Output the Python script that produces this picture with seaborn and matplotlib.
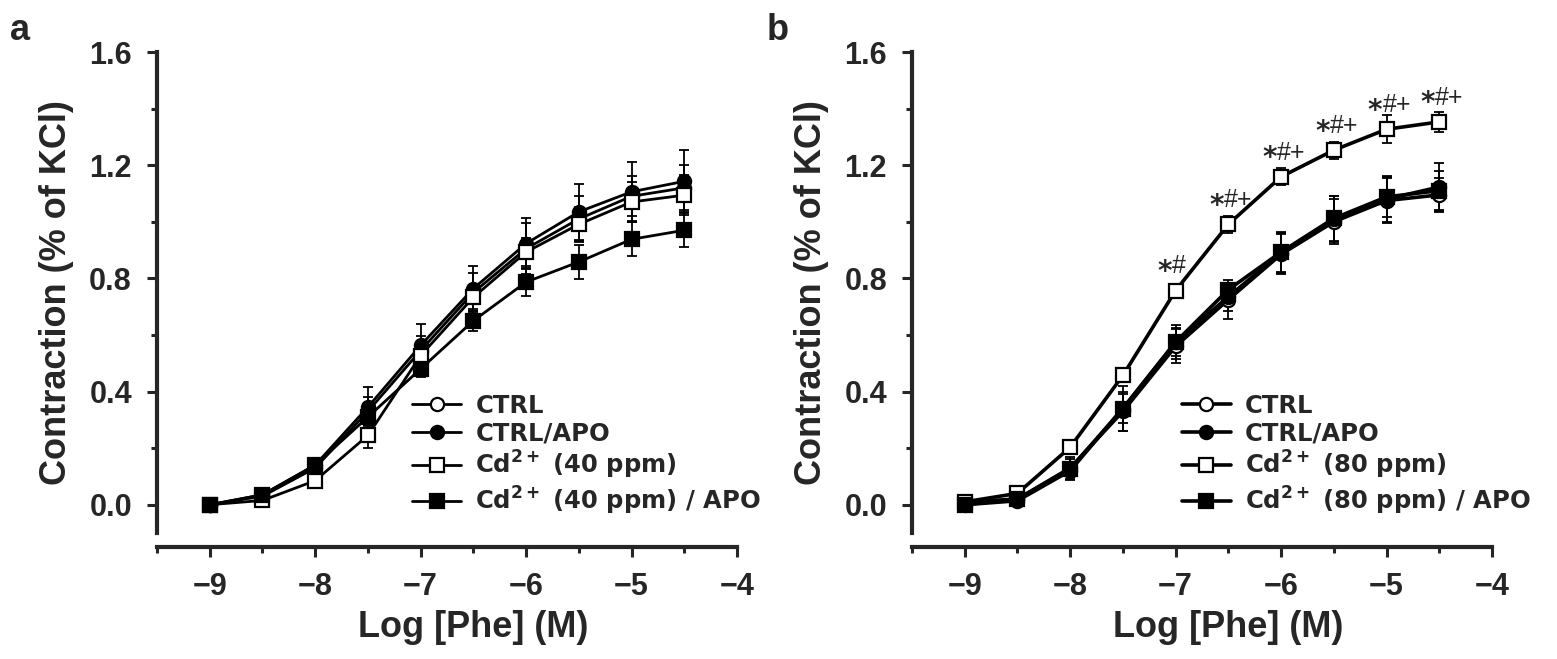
import matplotlib
matplotlib.use('Agg')
import matplotlib.pyplot as plt
import seaborn as sns
from matplotlib.ticker import MultipleLocator

# style first, fonts after (set_style resets font.family)
sns.set_style('ticks')
plt.rcParams['font.family'] = ['Liberation Sans', 'DejaVu Sans']
plt.rcParams['font.weight'] = 'bold'
plt.rcParams['mathtext.fontset'] = 'dejavusans'

# x positions (log molar phenylephrine)
log_phe = [-9.0, -8.5, -8.0, -7.5, -7.0, -6.5, -6.0, -5.5, -5.0, -4.5]

# panel a : means and SEM
a_ctrl = [0.00, 0.030, 0.13, 0.330, 0.545, 0.750, 0.905, 1.010, 1.090, 1.120]
a_ctrl_apo = [0.00, 0.035, 0.14, 0.345, 0.563, 0.764, 0.923, 1.035, 1.106, 1.143]
a_cd = [0.00, 0.015, 0.085, 0.245, 0.527, 0.733, 0.893, 0.991, 1.070, 1.094]
a_cd_apo = [0.00, 0.035, 0.14, 0.310, 0.480, 0.650, 0.787, 0.858, 0.938, 0.970]
a_ctrl_sem = [0.01, 0.01, 0.02, 0.05, 0.05, 0.07, 0.09, 0.08, 0.07, 0.08]
a_ctrl_apo_sem = [0.01, 0.01, 0.02, 0.07, 0.075, 0.08, 0.09, 0.10, 0.105, 0.11]
a_cd_sem = [0.01, 0.01, 0.02, 0.045, 0.03, 0.04, 0.05, 0.06, 0.07, 0.07]
a_cd_apo_sem = [0.01, 0.01, 0.02, 0.03, 0.03, 0.035, 0.05, 0.06, 0.06, 0.06]

# panel b
b_ctrl = [0.01, 0.020, 0.13, 0.330, 0.560, 0.725, 0.885, 1.000, 1.075, 1.095]
b_ctrl_apo = [0.00, 0.014, 0.12, 0.340, 0.575, 0.735, 0.890, 1.010, 1.080, 1.123]
b_cd = [0.01, 0.040, 0.203, 0.457, 0.757, 0.991, 1.159, 1.253, 1.327, 1.353]
b_cd_apo = [0.00, 0.020, 0.127, 0.340, 0.575, 0.760, 0.893, 1.012, 1.088, 1.110]
b_ctrl_sem = [0.01, 0.01, 0.03, 0.07, 0.06, 0.07, 0.07, 0.08, 0.08, 0.06]
b_ctrl_apo_sem = [0.01, 0.01, 0.03, 0.05, 0.05, 0.05, 0.07, 0.08, 0.08, 0.085]
b_cd_sem = [0.01, 0.01, 0.02, 0.02, 0.02, 0.03, 0.03, 0.03, 0.05, 0.035]
b_cd_apo_sem = [0.01, 0.01, 0.04, 0.08, 0.06, 0.02, 0.07, 0.08, 0.07, 0.07]

# significance marks over the Cd2+ (80 ppm) curve
b_sig_x = [-7.0, -6.5, -6.0, -5.5, -5.0, -4.5]
b_sig_marks = ['#', '#+', '#+', '#+', '#+', '#+']

labels_a = ['CTRL', 'CTRL/APO', r'$\mathbf{Cd^{2+}}$ (40 ppm)', r'$\mathbf{Cd^{2+}}$ (40 ppm) / APO']
labels_b = ['CTRL', 'CTRL/APO', r'$\mathbf{Cd^{2+}}$ (80 ppm)', r'$\mathbf{Cd^{2+}}$ (80 ppm) / APO']
markers = [('o', 'white'), ('o', 'black'), ('s', 'white'), ('s', 'black')]

W, H = 1557, 659
fig = plt.figure(figsize=(W / 100, H / 100), dpi=100)


def draw_panel(ax, series, sems, labels, lw, leg_x):
    for ys, sem, lab, (mk, fc) in zip(series, sems, labels, markers):
        ax.errorbar(log_phe, ys, yerr=sem, fmt='none', ecolor='black',
                    elinewidth=1.3, capsize=3.6, capthick=1.3, zorder=2, clip_on=False)
        sns.lineplot(x=log_phe, y=ys, ax=ax, color='black', linewidth=lw,
                     marker=mk, markersize=9.5, markerfacecolor=fc,
                     markeredgecolor='black', markeredgewidth=1.6,
                     label=lab, zorder=3, clip_on=False)

    ax.set_xlim(-9.5, -4)
    ax.set_ylim(-0.1, 1.6)
    ax.xaxis.set_minor_locator(MultipleLocator(0.5))
    ax.yaxis.set_minor_locator(MultipleLocator(0.2))
    ax.set_yticks([0.0, 0.4, 0.8, 1.2, 1.6])
    ax.set_yticklabels(['0.0', '0.4', '0.8', '1.2', '1.6'])
    ax.set_xticks([-9, -8, -7, -6, -5, -4])
    ax.set_xticklabels(['\u22129', '\u22128', '\u22127', '\u22126', '\u22125', '\u22124'])

    for side in ['top', 'right']:
        ax.spines[side].set_visible(False)
    for side in ['left', 'bottom']:
        ax.spines[side].set_linewidth(3)
    ax.spines['bottom'].set_position(('outward', 10))
    ax.tick_params(which='major', length=7, width=2.2, labelsize=22, pad=11)
    ax.tick_params(which='minor', length=4.5, width=2.2)

    ax.set_xlabel('Log [Phe] (M)', fontsize=26, fontweight='bold')
    ax.set_ylabel('Contraction (% of KCl)', fontsize=26, fontweight='bold')
    ax.xaxis.set_label_coords(0.545, -0.16)
    ax.yaxis.set_label_coords(-0.143, 0.5)

    handles, _ = ax.get_legend_handles_labels()
    ax.legend(handles, labels, loc='upper left', bbox_to_anchor=(leg_x, 0.29),
              frameon=False, borderpad=0, borderaxespad=0, handlelength=2.0,
              handletextpad=0.6, labelspacing=0.15,
              prop={'family': 'DejaVu Sans', 'weight': 'bold', 'size': 17.5})


ax_a = fig.add_axes([157 / W, 1 - 533 / H, 580 / W, 481 / H])
draw_panel(ax_a, [a_ctrl, a_ctrl_apo, a_cd, a_cd_apo],
           [a_ctrl_sem, a_ctrl_apo_sem, a_cd_sem, a_cd_apo_sem], labels_a, 2.0, 0.44)

ax_b = fig.add_axes([912 / W, 1 - 533 / H, 580 / W, 481 / H])
draw_panel(ax_b, [b_ctrl, b_ctrl_apo, b_cd, b_cd_apo],
           [b_ctrl_sem, b_ctrl_apo_sem, b_cd_sem, b_cd_apo_sem], labels_b, 2.6, 0.4655)

# star + other symbols above the Cd2+ points
for x, mark in zip(b_sig_x, b_sig_marks):
    y = b_cd[log_phe.index(x)] + 0.085
    ax_b.annotate('*', xy=(x, y), xytext=(-3, -4), textcoords='offset points',
                  ha='right', va='center', fontsize=20, fontweight='bold',
                  family='DejaVu Sans')
    ax_b.annotate(mark, xy=(x, y), xytext=(-3, 0), textcoords='offset points',
                  ha='left', va='center', fontsize=18, fontweight='normal',
                  family='Liberation Sans')

fig.text(10 / W, 1 - 40 / H, 'a', fontsize=26, fontweight='bold', va='baseline')
fig.text(767 / W, 1 - 40 / H, 'b', fontsize=26, fontweight='bold', va='baseline')

fig.savefig('out.png', dpi=100)
